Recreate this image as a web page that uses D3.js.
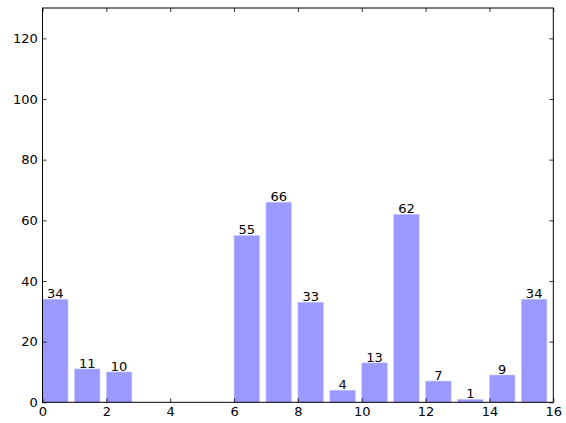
<!DOCTYPE html>
<html><head><meta charset="utf-8">
<script src="https://cdn.jsdelivr.net/npm/d3@7"></script>
<style>body{margin:0;background:#fff}svg{display:block}text{font-family:"DejaVu Sans",sans-serif}</style>
</head><body>
<script>
const positions = [0,1,2,3,4,5,6,7,8,9,10,11,12,13,14,15];
const values = [34,11,10,0,0,0,55,66,33,4,13,62,7,1,9,34];
const xTicks = [0,2,4,6,8,10,12,14,16];
const yTicks = [0,20,40,60,80,100,120];

const W=566,H=423;
const m={l:42.5,r:553.3,t:8,b:402.3};
const svg=d3.select("body").append("svg").attr("width",W).attr("height",H);
const x=d3.scaleLinear().domain([0,16]).range([m.l,m.r]);
const y=d3.scaleLinear().domain([0,130]).range([m.b,m.t]);
const bw=0.8;
const fs="13px";

svg.append("g").selectAll("rect").data(positions).join("rect")
  .attr("x",d=>x(d)).attr("width",x(bw)-x(0))
  .attr("y",(d,i)=>y(values[i])).attr("height",(d,i)=>y(0)-y(values[i]))
  .attr("fill","#9999ff").attr("stroke","#ccccff").attr("stroke-width",0.6);

svg.append("g").selectAll("text").data(positions.filter((d,i)=>values[i]>0)).join("text")
  .attr("x",d=>x(d+bw/2)).attr("y",d=>y(values[d])-1)
  .attr("text-anchor","middle").attr("font-size",fs).attr("fill","#000")
  .text(d=>values[d]);

const xb=svg.append("g").attr("transform",`translate(0,${m.b})`)
  .call(d3.axisBottom(x).tickValues(xTicks).tickSize(-4).tickPadding(4.5).tickFormat(d3.format("d")));
const xt=svg.append("g").attr("transform",`translate(0,${m.t})`)
  .call(d3.axisTop(x).tickValues(xTicks).tickSize(-4).tickFormat(""));
const yl=svg.append("g").attr("transform",`translate(${m.l},0)`)
  .call(d3.axisLeft(y).tickValues(yTicks).tickSize(-4).tickPadding(4.8).tickFormat(d3.format("d")));
const yr=svg.append("g").attr("transform",`translate(${m.r},0)`)
  .call(d3.axisRight(y).tickValues(yTicks).tickSize(-4).tickFormat(""));
[xb,xt,yl,yr].forEach(g=>{
  g.select(".domain").remove();
  g.selectAll("line").attr("stroke","#000").attr("stroke-width",0.8);
  g.selectAll("text").attr("font-size",fs).attr("fill","#000").attr("font-family","DejaVu Sans, sans-serif");
});
svg.append("rect").attr("x",m.l).attr("y",m.t).attr("width",m.r-m.l).attr("height",m.b-m.t)
  .attr("fill","none").attr("stroke","#000").attr("stroke-width",1);
</script>
</body></html>
